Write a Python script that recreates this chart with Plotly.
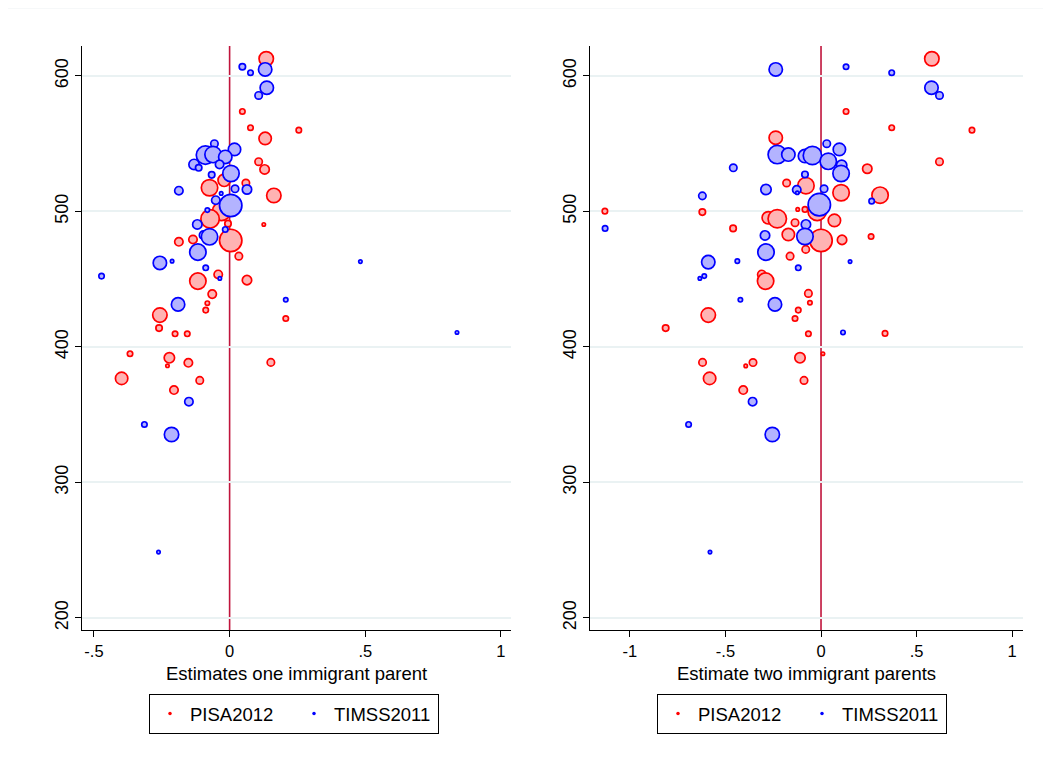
import plotly.graph_objects as go

# ---------------- data ----------------
# Left panel: estimates, one immigrant parent
pisa_one_x = [0.135, 0.047, 0.077, 0.255, 0.131, 0.107, 0.129, 0.060, -0.020, -0.074, 0.163, -0.030,
              -0.072, -0.006, 0.126, -0.187, -0.135, 0.004, 0.034, -0.042, 0.064, -0.117, -0.064,
              -0.082, -0.088, 0.207, -0.257, -0.260, -0.201, -0.156, -0.367, -0.222, -0.229, -0.152,
              0.152, -0.398, -0.110, -0.205]
pisa_one_y = [612.7, 573.8, 561.8, 560.0, 553.9, 536.7, 531.0, 521.0, 523.0, 517.5, 511.8, 500.0,
              494.5, 491.0, 490.4, 477.6, 479.3, 478.6, 467.0, 453.5, 449.3, 448.6, 439.0,
              432.3, 427.2, 421.0, 423.5, 413.9, 409.7, 409.7, 395.0, 392.0, 386.1, 388.3,
              388.6, 376.8, 375.3, 368.2]
pisa_one_w = [16, 7, 7, 7, 14, 9, 11, 9, 14, 18, 16, 20,
              20, 8, 5, 10, 10, 24, 9, 10, 11, 18, 10,
              6, 7, 7, 16, 8, 7, 7, 7, 12, 5, 10,
              9, 14, 9, 10]

timss_one_x = [0.047, 0.077, 0.131, 0.137, 0.107, -0.056, -0.131, -0.114, -0.089, -0.061, 0.018, -0.016,
               -0.037, -0.066, 0.005, -0.187, 0.020, 0.064, -0.031, -0.051, 0.004, -0.082, -0.016,
               -0.119, -0.096, -0.074, -0.117, -0.257, -0.212, -0.472, -0.088, -0.036, 0.482, 0.207,
               -0.190, 0.838, -0.150, -0.314, -0.214, -0.262]
timss_one_y = [606.8, 602.4, 604.8, 591.3, 585.6, 550.0, 534.7, 532.2, 541.6, 542.0, 545.8, 540.2,
               534.7, 527.0, 528.0, 515.3, 516.7, 516.2, 513.3, 508.3, 504.4, 501.0, 486.7,
               490.4, 482.5, 481.3, 470.0, 462.0, 463.3, 452.3, 458.4, 450.6, 463.0, 434.8,
               431.4, 410.7, 359.6, 342.8, 335.4, 248.6]
timss_one_w = [8, 7, 15, 15, 9, 9, 12, 8, 20, 18, 14, 15,
               10, 8, 18, 10, 9, 11, 5, 10, 24, 6, 7,
               11, 10, 18, 18, 15, 5, 7, 7, 5, 5, 6,
               15, 5, 10, 7, 16, 5]

# Right panel: estimates, two immigrant parents
pisa_two_x = [0.580, 0.131, 0.370, 0.790, -0.237, 0.620, 0.242, -0.180, -0.079, 0.105, 0.309, -0.020,
              0.070, -0.122, -0.084, -1.131, -0.621, -0.276, -0.229, -0.460, -0.136, -0.171, 0.262,
              0.110, 0.000, -0.080, -0.162, -0.310, -0.290, -0.066, -0.058, -0.119, -0.136, -0.590,
              -0.813, -0.066, 0.335, 0.010, -0.110, -0.620, -0.394, -0.356, -0.583, -0.089, -0.407]
pisa_two_y = [612.7, 573.8, 561.8, 560.0, 554.4, 536.7, 531.5, 521.0, 519.0, 513.8, 512.0, 500.0,
              493.4, 501.5, 501.5, 500.2, 499.5, 495.3, 494.6, 487.5, 491.7, 483.0, 481.5,
              479.0, 478.6, 472.0, 467.0, 453.5, 448.6, 439.5, 432.6, 427.2, 421.0, 423.5,
              413.9, 409.7, 410.0, 395.0, 392.0, 388.6, 386.0, 388.5, 376.8, 375.3, 368.2]
pisa_two_w = [16, 7, 7, 7, 15, 9, 11, 9, 18, 18, 18, 20,
              14, 5, 7, 7, 8, 14, 20, 8, 9, 14, 7,
              11, 24, 9, 9, 10, 18, 9, 6, 7, 7, 16,
              8, 7, 7, 5, 12, 9, 5, 9, 14, 9, 10]

timss_two_x = [-0.237, 0.131, 0.370, 0.578, 0.620, 0.030, 0.096, -0.229, -0.171, -0.084, -0.045, 0.038,
               0.108, -0.459, 0.105, -0.084, -0.288, -0.127, 0.016, -0.124, -0.621, 0.265, -0.009,
               -0.079, -1.130, -0.293, -0.084, -0.288, -0.590, -0.438, 0.152, -0.119, -0.611, -0.634,
               -0.422, -0.241, 0.115, -0.358, -0.693, -0.255, -0.581]
timss_two_y = [604.8, 606.8, 602.4, 591.3, 585.6, 550.0, 545.8, 542.0, 542.0, 540.9, 541.3, 537.0,
               534.0, 532.2, 528.0, 527.3, 516.2, 516.0, 516.7, 513.8, 511.5, 507.6, 505.0,
               490.4, 487.5, 482.3, 481.5, 470.0, 462.6, 463.3, 463.0, 458.4, 452.3, 450.6,
               434.8, 431.4, 410.7, 359.6, 342.8, 335.4, 248.6]
timss_two_w = [15, 7, 7, 15, 9, 9, 14, 20, 15, 15, 20, 18,
               12, 9, 18, 8, 12, 10, 9, 5, 9, 7, 24,
               11, 7, 11, 18, 18, 15, 6, 5, 7, 6, 5,
               6, 15, 6, 10, 7, 16, 5]

x1_ticks = [-0.5, 0, 0.5, 1]
x1_labels = ["-.5", "0", ".5", "1"]
x2_ticks = [-1, -0.5, 0, 0.5, 1]
x2_labels = ["-1", "-.5", "0", ".5", "1"]
y_ticks = [200, 300, 400, 500, 600]
y_labels = ["200", "300", "400", "500", "600"]

x_titles = ["Estimates one immigrant parent", "Estimate two immigrant parents"]
series_names = ["PISA2012", "TIMSS2011"]

# ---------------- styling ----------------
RED, RED_FILL = "#ff0000", "#ffb3b3"
BLUE, BLUE_FILL = "#0000ff", "#b3b3ff"
FONT = "Liberation Sans, Arial, sans-serif"
W, H = 1051, 772
OFF = 8  # page body margin offset in the browser


def px_x(p):
    return (p - OFF) / W


def px_y(p):
    return 1 - (p - OFF) / H


def msize(w):
    return [max(v - 1.6, 2) for v in w]


fig = go.Figure()


def bubbles(x, y, w, line, fill, xa, ya):
    fig.add_trace(go.Scatter(
        x=x, y=y, mode="markers", xaxis=xa, yaxis=ya, showlegend=False, hoverinfo="x+y",
        marker=dict(size=msize(w), color=fill, line=dict(color=line, width=1.7), opacity=1)))


bubbles(pisa_one_x, pisa_one_y, pisa_one_w, RED, RED_FILL, "x", "y")
bubbles(timss_one_x, timss_one_y, timss_one_w, BLUE, BLUE_FILL, "x", "y")
bubbles(pisa_two_x, pisa_two_y, pisa_two_w, RED, RED_FILL, "x2", "y2")
bubbles(timss_two_x, timss_two_y, timss_two_w, BLUE, BLUE_FILL, "x2", "y2")

# legend entries (small dots as in the original)
for leg, xa, ya in [("legend", "x", "y"), ("legend2", "x2", "y2")]:
    for name, col in zip(series_names, [RED, BLUE]):
        fig.add_trace(go.Scatter(
            x=[None], y=[None], mode="markers", name=name, xaxis=xa, yaxis=ya, legend=leg,
            marker=dict(size=3.5, color=col)))

ydom = [px_y(630), px_y(46)]
x1dom = [px_x(82), px_x(511)]
x2dom = [px_x(590), px_x(1023)]

common_x = dict(showgrid=False, zeroline=False, showline=True, linecolor="black", linewidth=1.3,
                ticks="outside", ticklen=6, tickcolor="black", tickwidth=1.3, automargin=False,
                tickfont=dict(family=FONT, size=16.5, color="black"))
common_y = dict(showgrid=True, gridcolor="#eaf2f3", gridwidth=1.6, zeroline=False, showline=True,
                linecolor="black", linewidth=1.3, ticks="outside", ticklen=6, tickcolor="black",
                tickwidth=1.3, tickangle=-90, tickvals=y_ticks, ticktext=y_labels, automargin=False,
                tickfont=dict(family=FONT, size=18, color="black"), range=[191.1, 622.1])

legend_common = dict(orientation="h", xanchor="center", y=px_y(694), yanchor="top",
                     bordercolor="black", borderwidth=1, bgcolor="white",
                     font=dict(family=FONT, size=18.5, color="black"),
                     entrywidth=99, entrywidthmode="pixels")

annotations = []
for dom, txt in zip([x1dom, x2dom], x_titles):
    annotations.append(dict(text=txt, xref="paper", yref="paper", x=(dom[0] + dom[1]) / 2,
                            y=px_y(673), xanchor="center", yanchor="middle", showarrow=False,
                            font=dict(family=FONT, size=18.5, color="black")))

fig.update_layout(
    width=W, height=H, paper_bgcolor="white", plot_bgcolor="white",
    margin=dict(l=0, r=0, t=0, b=0, autoexpand=False),
    font=dict(family=FONT, color="black"),
    xaxis=dict(domain=x1dom, anchor="y", range=[-0.544, 1.037], tickvals=x1_ticks, ticktext=x1_labels,
               **common_x),
    yaxis=dict(domain=ydom, anchor="x", **common_y),
    xaxis2=dict(domain=x2dom, anchor="y2", range=[-1.209, 1.057], tickvals=x2_ticks, ticktext=x2_labels,
                **common_x),
    yaxis2=dict(domain=ydom, anchor="x2", **common_y),
    legend=dict(x=px_x(294), **legend_common),
    legend2=dict(x=px_x(802), **legend_common),
    annotations=annotations,
    shapes=[
        dict(type="line", xref="x", yref="y domain", x0=0, x1=0, y0=0, y1=1,
             line=dict(color="#c0143c", width=1.6), layer="below"),
        dict(type="line", xref="x2", yref="y2 domain", x0=0, x1=0, y0=0, y1=1,
             line=dict(color="#c0143c", width=1.6), layer="below"),
        dict(type="line", xref="paper", yref="paper", x0=0, x1=1, y0=1, y1=1,
             line=dict(color="#eef2f4", width=1)),
    ],
)

fig.write_html("out.html")
